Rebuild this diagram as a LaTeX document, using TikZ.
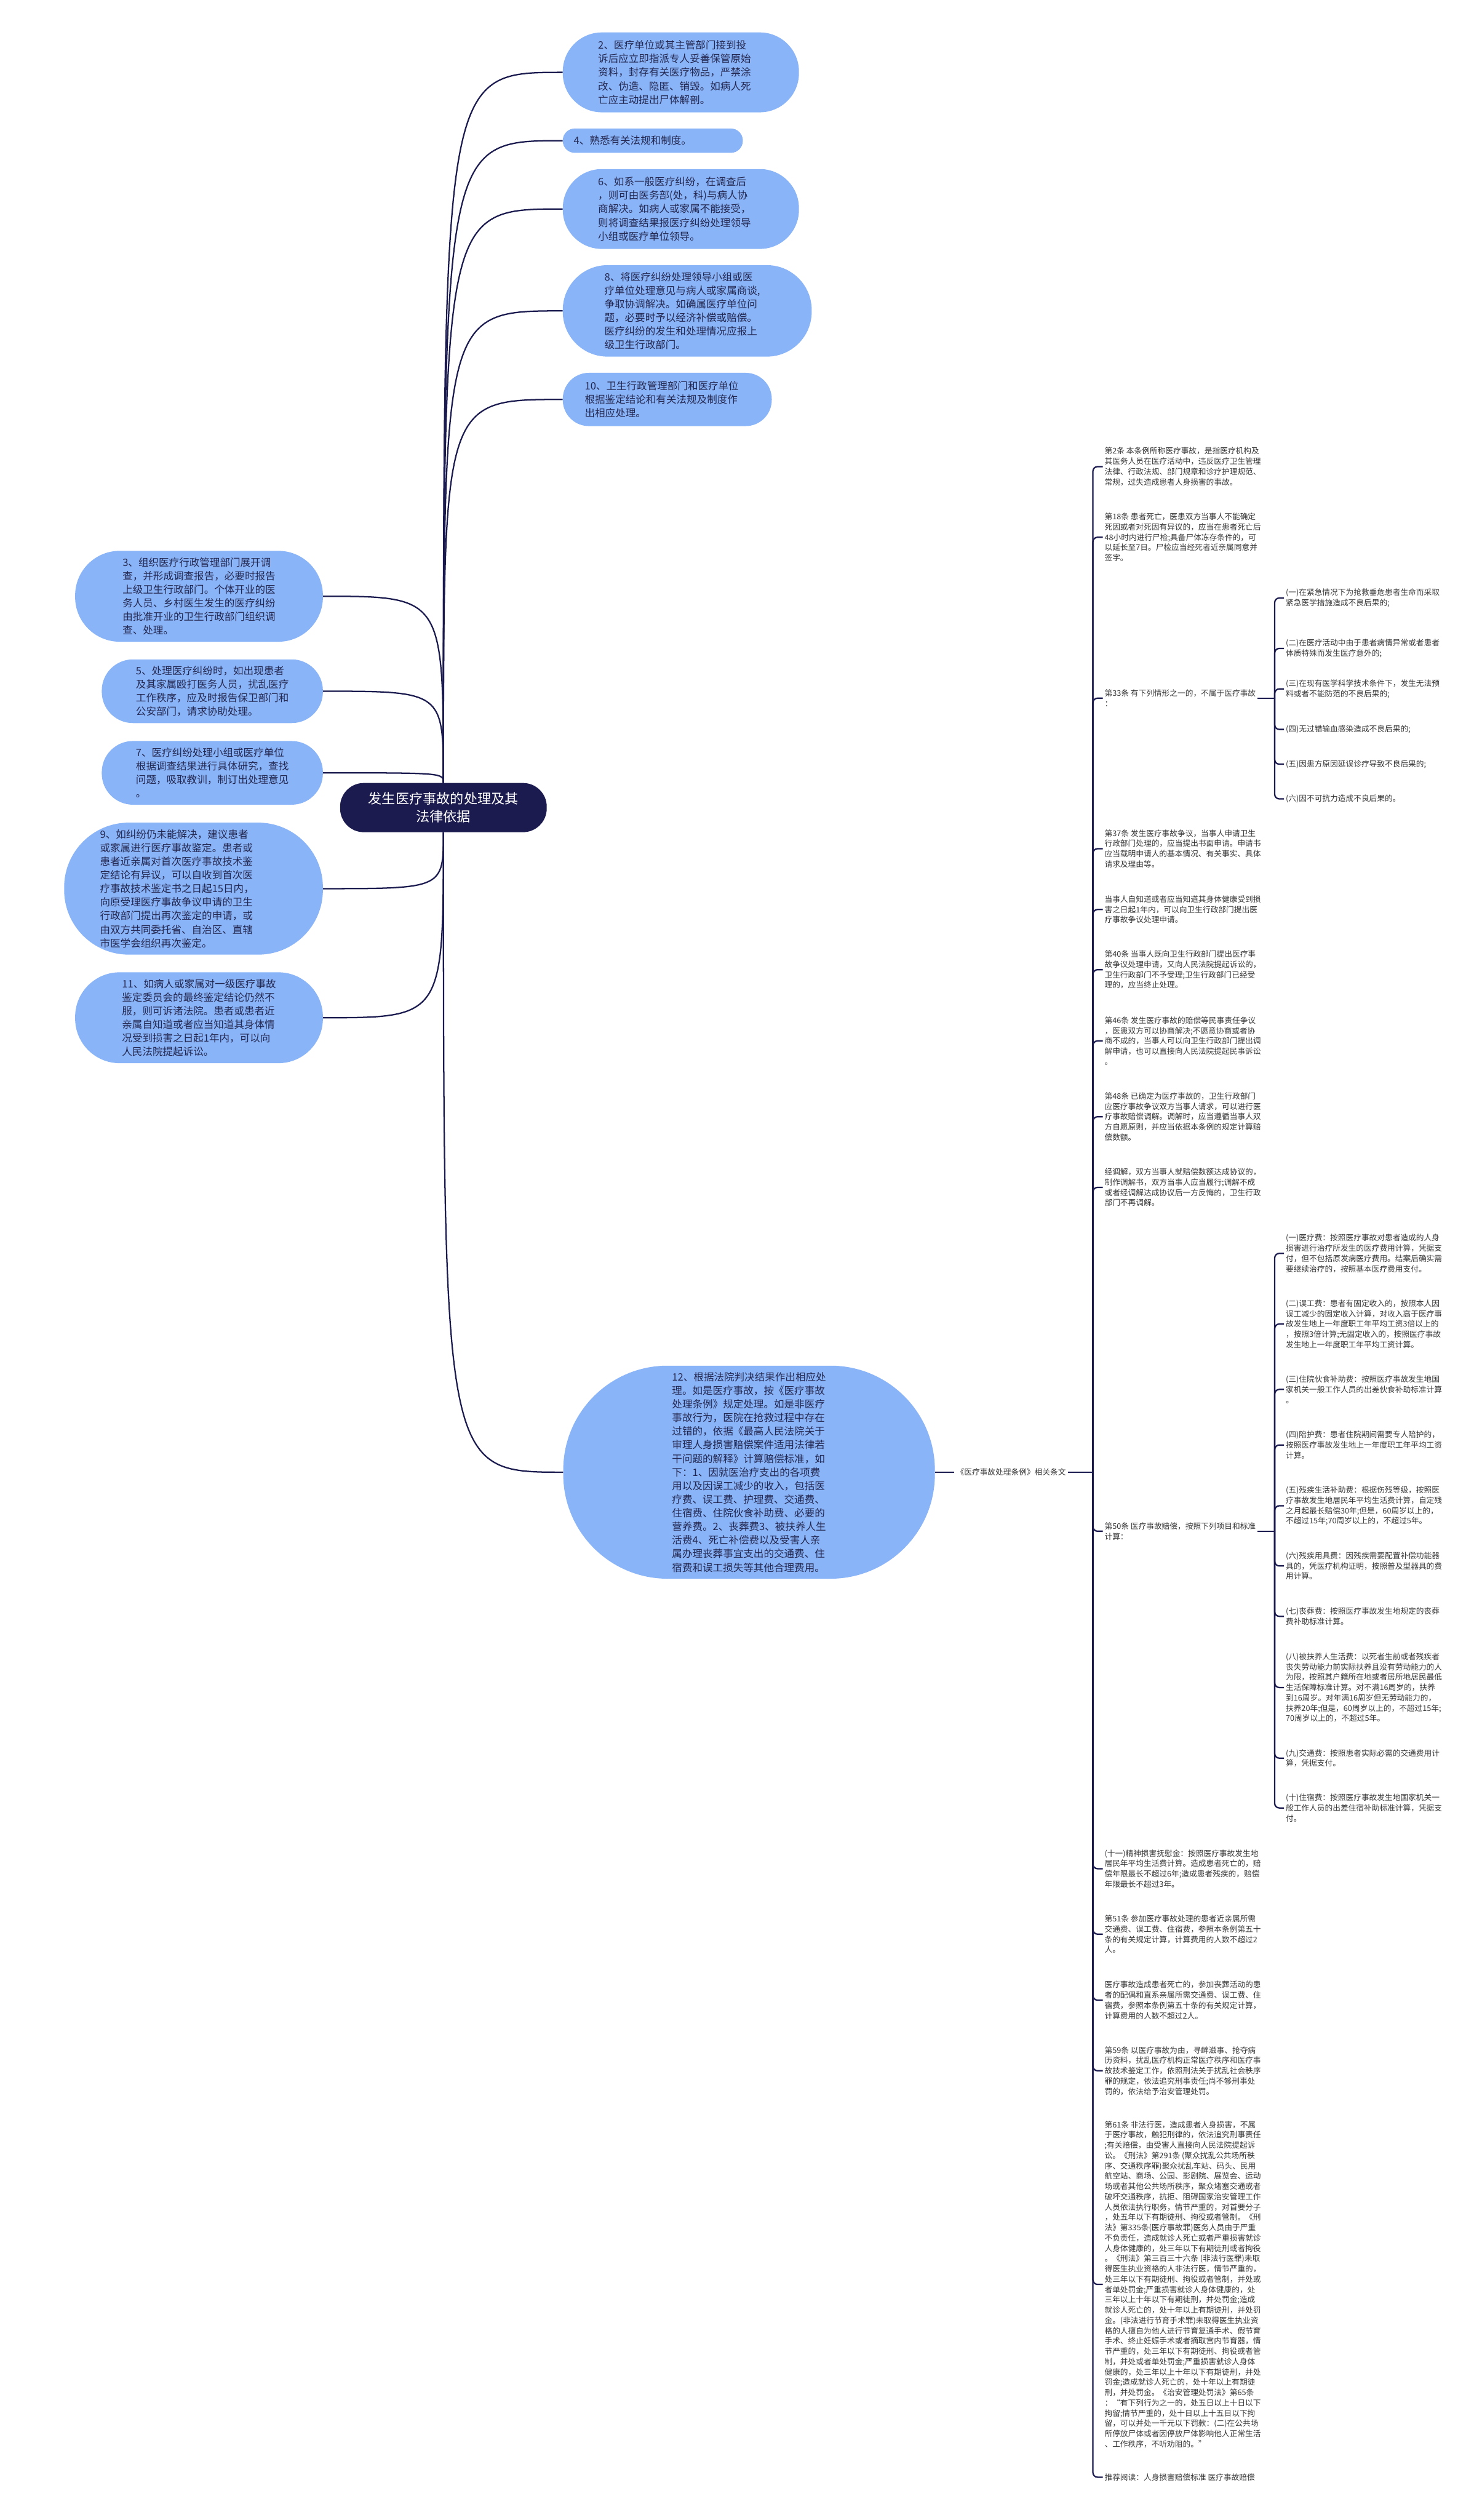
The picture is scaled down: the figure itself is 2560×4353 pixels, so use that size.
\documentclass[tikz,border=0pt]{standalone}
\usepackage{fontspec}
\usepackage{tikz}
\usetikzlibrary{positioning}
\newfontfamily\cjk{Noto Sans CJK SC}
\newcommand{\rootfont}{\cjk\fontsize{23.6}{31}\selectfont}
\newcommand{\bubblefont}{\cjk\fontsize{17.6}{23.5}\selectfont}
\newcommand{\notefont}{\cjk\fontsize{13.5}{17.8}\selectfont}
\definecolor{mapnavy}{HTML}{1B1B50}
\definecolor{bubblefill}{HTML}{8AB4F8}
\definecolor{bubbletext}{HTML}{23274F}
\definecolor{notetext}{HTML}{363636}
\tikzset{
  rootbox/.style={rectangle, rounded corners=41pt, fill=mapnavy, text=white,
    font=\rootfont, align=center, inner sep=0pt, minimum width=357pt, minimum height=85pt},
  bubble/.style 2 args={rectangle, rounded corners=0.49*#2, fill=bubblefill,
    text=bubbletext, font=\bubblefont, align=left, inner sep=0pt,
    minimum width=#1, minimum height=#2},
  note/.style={anchor=west, font=\notefont, text=notetext, align=left, inner sep=3pt},
  link/.style={mapnavy, line width=2.4pt},
  hook/.style={link, rounded corners=8pt},
}
\begin{document}
\begin{tikzpicture}[x=1pt, y=-1pt]
  \fill[white] (0,0) rectangle (2560,4353);
  \useasboundingbox (0,0) rectangle (2560,4353);
  % 中心主题
  \node[rootbox] (root) at (766,1395) {发生医疗事故的处理及其\\法律依据};
  % 上方分支
  \node[bubble={408}{138}, text width=286, anchor=west] (n2) at (972,125)
    {2、医疗单位或其主管部门接到投\\诉后应立即指派专人妥善保管原始\\资料，封存有关医疗物品，严禁涂\\改、伪造、隐匿、销毁。如病人死\\亡应主动提出尸体解剖。};
  \node[bubble={311}{42}, text width=273, anchor=west] (n4) at (972,243) {4、熟悉有关法规和制度。};
  \node[bubble={408}{138}, text width=286, anchor=west] (n6) at (972,361)
    {6、如系一般医疗纠纷，在调查后\\，则可由医务部(处，科)与病人协\\商解决。如病人或家属不能接受，\\则将调查结果报医疗纠纷处理领导\\小组或医疗单位领导。};
  \node[bubble={430}{158}, text width=286, anchor=west] (n8) at (972,537)
    {8、将医疗纠纷处理领导小组或医\\疗单位处理意见与病人或家属商谈,\\争取协调解决。如确属医疗单位问\\题，必要时予以经济补偿或赔偿。\\医疗纠纷的发生和处理情况应报上\\级卫生行政部门。};
  \node[bubble={361}{92}, text width=285, anchor=west] (n10) at (972,690)
    {10、卫生行政管理部门和医疗单位\\根据鉴定结论和有关法规及制度作\\出相应处理。};
  % 左侧分支
  \node[bubble={428}{157}, anchor=east] (n3) at (558,1030)
    {3、组织医疗行政管理部门展开调\\查，并形成调查报告，必要时报告\\上级卫生行政部门。个体开业的医\\务人员、乡村医生发生的医疗纠纷\\由批准开业的卫生行政部门组织调\\查、处理。};
  \node[bubble={382}{110}, anchor=east] (n5) at (558,1194)
    {5、处理医疗纠纷时，如出现患者\\及其家属殴打医务人员，扰乱医疗\\工作秩序，应及时报告保卫部门和\\公安部门，请求协助处理。};
  \node[bubble={382}{110}, anchor=east] (n7) at (558,1335)
    {7、医疗纠纷处理小组或医疗单位\\根据调查结果进行具体研究，查找\\问题，吸取教训，制订出处理意见\\。};
  \node[bubble={447}{228}, text width=323, anchor=east] (n9) at (558,1535)
    {9、如纠纷仍未能解决，建议患者\\或家属进行医疗事故鉴定。患者或\\患者近亲属对首次医疗事故技术鉴\\定结论有异议，可以自收到首次医\\疗事故技术鉴定书之日起15日内，\\向原受理医疗事故争议申请的卫生\\行政部门提出再次鉴定的申请，或\\由双方共同委托省、自治区、直辖\\市医学会组织再次鉴定。};
  \node[bubble={428}{157}, anchor=east] (n11) at (558,1758)
    {11、如病人或家属对一级医疗事故\\鉴定委员会的最终鉴定结论仍然不\\服，则可诉诸法院。患者或患者近\\亲属自知道或者应当知道其身体情\\况受到损害之日起1年内，可以向\\人民法院提起诉讼。};
  % 下方分支
  \node[bubble={642}{368}] (n12) at (1294,2543)
    {12、根据法院判决结果作出相应处\\理。如是医疗事故，按《医疗事故\\处理条例》规定处理。如是非医疗\\事故行为，医院在抢救过程中存在\\过错的，依据《最高人民法院关于\\审理人身损害赔偿案件适用法律若\\干问题的解释》计算赔偿标准，如\\下：1、因就医治疗支出的各项费\\用以及因误工减少的收入，包括医\\疗费、误工费、护理费、交通费、\\住宿费、住院伙食补助费、必要的\\营养费。2、丧葬费3、被扶养人生\\活费4、死亡补偿费以及受害人亲\\属办理丧葬事宜支出的交通费、住\\宿费和误工损失等其他合理费用。};
  \node[note, inner sep=4pt] (law) at (1648,2543) {《医疗事故处理条例》相关条文};
  % 相关条文
  \node[note] (a2) at (1905,806)
    {第2条 本条例所称医疗事故，是指医疗机构及\\其医务人员在医疗活动中，违反医疗卫生管理\\法律、行政法规、部门规章和诊疗护理规范、\\常规，过失造成患者人身损害的事故。};
  \node[note] (a18) at (1905,928)
    {第18条 患者死亡，医患双方当事人不能确定\\死因或者对死因有异议的，应当在患者死亡后\\48小时内进行尸检;具备尸体冻存条件的，可\\以延长至7日。尸检应当经死者近亲属同意并\\签字。};
  \node[note] (a33) at (1905,1206) {第33条 有下列情形之一的，不属于医疗事故\\：};
  \node[note] (a37) at (1905,1466)
    {第37条 发生医疗事故争议，当事人申请卫生\\行政部门处理的，应当提出书面申请。申请书\\应当载明申请人的基本情况、有关事实、具体\\请求及理由等。};
  \node[note] (a37b) at (1905,1571)
    {当事人自知道或者应当知道其身体健康受到损\\害之日起1年内，可以向卫生行政部门提出医\\疗事故争议处理申请。};
  \node[note] (a40) at (1905,1675)
    {第40条 当事人既向卫生行政部门提出医疗事\\故争议处理申请，又向人民法院提起诉讼的，\\卫生行政部门不予受理;卫生行政部门已经受\\理的，应当终止处理。};
  \node[note] (a46) at (1905,1798)
    {第46条 发生医疗事故的赔偿等民事责任争议\\，医患双方可以协商解决;不愿意协商或者协\\商不成的，当事人可以向卫生行政部门提出调\\解申请，也可以直接向人民法院提起民事诉讼\\。};
  \node[note] (a48) at (1905,1929)
    {第48条 已确定为医疗事故的，卫生行政部门\\应医疗事故争议双方当事人请求，可以进行医\\疗事故赔偿调解。调解时，应当遵循当事人双\\方自愿原则，并应当依据本条例的规定计算赔\\偿数额。};
  \node[note] (a48b) at (1905,2051)
    {经调解，双方当事人就赔偿数额达成协议的，\\制作调解书，双方当事人应当履行;调解不成\\或者经调解达成协议后一方反悔的，卫生行政\\部门不再调解。};
  \node[note] (a50) at (1905,2645) {第50条 医疗事故赔偿，按照下列项目和标准\\计算：};
  \node[note] (a50k) at (1905,3228)
    {(十一)精神损害抚慰金：按照医疗事故发生地\\居民年平均生活费计算。造成患者死亡的，赔\\偿年限最长不超过6年;造成患者残疾的，赔偿\\年限最长不超过3年。};
  \node[note] (a51) at (1905,3341)
    {第51条 参加医疗事故处理的患者近亲属所需\\交通费、误工费、住宿费，参照本条例第五十\\条的有关规定计算，计算费用的人数不超过2\\人。};
  \node[note] (a51b) at (1905,3455)
    {医疗事故造成患者死亡的，参加丧葬活动的患\\者的配偶和直系亲属所需交通费、误工费、住\\宿费，参照本条例第五十条的有关规定计算，\\计算费用的人数不超过2人。};
  \node[note] (a59) at (1905,3577)
    {第59条 以医疗事故为由，寻衅滋事、抢夺病\\历资料，扰乱医疗机构正常医疗秩序和医疗事\\故技术鉴定工作，依照刑法关于扰乱社会秩序\\罪的规定，依法追究刑事责任;尚不够刑事处\\罚的，依法给予治安管理处罚。};
  \node[note] (a61) at (1905,3946)
    {第61条 非法行医，造成患者人身损害，不属\\于医疗事故，触犯刑律的，依法追究刑事责任\\;有关赔偿，由受害人直接向人民法院提起诉\\讼。《刑法》第291条 (聚众扰乱公共场所秩\\序、交通秩序罪)聚众扰乱车站、码头、民用\\航空站、商场、公园、影剧院、展览会、运动\\场或者其他公共场所秩序，聚众堵塞交通或者\\破坏交通秩序，抗拒、阻碍国家治安管理工作\\人员依法执行职务，情节严重的，对首要分子\\，处五年以下有期徒刑、拘役或者管制。《刑\\法》第335条(医疗事故罪)医务人员由于严重\\不负责任，造成就诊人死亡或者严重损害就诊\\人身体健康的，处三年以下有期徒刑或者拘役\\。《刑法》第三百三十六条 (非法行医罪)未取\\得医生执业资格的人非法行医，情节严重的，\\处三年以下有期徒刑、拘役或者管制，并处或\\者单处罚金;严重损害就诊人身体健康的，处\\三年以上十年以下有期徒刑，并处罚金;造成\\就诊人死亡的，处十年以上有期徒刑，并处罚\\金。(非法进行节育手术罪)未取得医生执业资\\格的人擅自为他人进行节育复通手术、假节育\\手术、终止妊娠手术或者摘取宫内节育器，情\\节严重的，处三年以下有期徒刑、拘役或者管\\制，并处或者单处罚金;严重损害就诊人身体\\健康的，处三年以上十年以下有期徒刑，并处\\罚金;造成就诊人死亡的，处十年以上有期徒\\刑，并处罚金。《治安管理处罚法》第65条\\：“有下列行为之一的，处五日以上十日以下\\拘留;情节严重的，处十日以上十五日以下拘\\留，可以并处一千元以下罚款：(二)在公共场\\所停放尸体或者因停放尸体影响他人正常生活\\、工作秩序，不听劝阻的。”};
  \node[note] (tui) at (1905,4279) {推荐阅读：人身损害赔偿标准 医疗事故赔偿};
  % 第33条各项
  \node[note] (c1) at (2218,1033) {(一)在紧急情况下为抢救垂危患者生命而采取\\紧急医学措施造成不良后果的;};
  \node[note] (c2) at (2218,1120) {(二)在医疗活动中由于患者病情异常或者患者\\体质特殊而发生医疗意外的;};
  \node[note] (c3) at (2218,1190) {(三)在现有医学科学技术条件下，发生无法预\\料或者不能防范的不良后果的;};
  \node[note] (c4) at (2218,1260) {(四)无过错输血感染造成不良后果的;};
  \node[note] (c5) at (2218,1320) {(五)因患方原因延误诊疗导致不良后果的;};
  \node[note] (c6) at (2218,1380) {(六)因不可抗力造成不良后果的。};
  % 第50条各项
  \node[note] (d1) at (2218,2165)
    {(一)医疗费：按照医疗事故对患者造成的人身\\损害进行治疗所发生的医疗费用计算，凭据支\\付，但不包括原发病医疗费用。结案后确实需\\要继续治疗的，按照基本医疗费用支付。};
  \node[note] (d2) at (2218,2287)
    {(二)误工费：患者有固定收入的，按照本人因\\误工减少的固定收入计算，对收入高于医疗事\\故发生地上一年度职工年平均工资3倍以上的\\，按照3倍计算;无固定收入的，按照医疗事故\\发生地上一年度职工年平均工资计算。};
  \node[note] (d3) at (2218,2400)
    {(三)住院伙食补助费：按照医疗事故发生地国\\家机关一般工作人员的出差伙食补助标准计算\\。};
  \node[note] (d4) at (2218,2496)
    {(四)陪护费：患者住院期间需要专人陪护的，\\按照医疗事故发生地上一年度职工年平均工资\\计算。};
  \node[note] (d5) at (2218,2601)
    {(五)残疾生活补助费：根据伤残等级，按照医\\疗事故发生地居民年平均生活费计算，自定残\\之月起最长赔偿30年;但是，60周岁以上的，\\不超过15年;70周岁以上的，不超过5年。};
  \node[note] (d6) at (2218,2705)
    {(六)残疾用具费：因残疾需要配置补偿功能器\\具的，凭医疗机构证明，按照普及型器具的费\\用计算。};
  \node[note] (d7) at (2218,2792)
    {(七)丧葬费：按照医疗事故发生地规定的丧葬\\费补助标准计算。};
  \node[note] (d8) at (2218,2915)
    {(八)被扶养人生活费：以死者生前或者残疾者\\丧失劳动能力前实际扶养且没有劳动能力的人\\为限，按照其户籍所在地或者居所地居民最低\\生活保障标准计算。对不满16周岁的，扶养\\到16周岁。对年满16周岁但无劳动能力的，\\扶养20年;但是，60周岁以上的，不超过15年;\\70周岁以上的，不超过5年。};
  \node[note] (d9) at (2218,3037)
    {(九)交通费：按照患者实际必需的交通费用计\\算，凭据支付。};
  \node[note] (d10) at (2218,3123)
    {(十)住宿费：按照医疗事故发生地国家机关一\\般工作人员的出差住宿补助标准计算，凭据支\\付。};
  % 主干连线
  \foreach \n in {n2,n4,n6,n8,n10}
    \draw[link] (root.north) .. controls (root.north |- \n.west) .. (\n.west);
  \foreach \n in {n3,n5,n7}
    \draw[link] (root.north) .. controls (root.north |- \n.east) .. (\n.east);
  \foreach \n in {n9,n11}
    \draw[link] (root.south) .. controls (root.south |- \n.east) .. (\n.east);
  \draw[link] (root.south) .. controls (root.south |- n12.west) .. (n12.west);
  \draw[link] (n12.east) -- (law.west);
  % 条文括线
  \coordinate (fork) at (1888,2543);
  \draw[link] (law.east) -- (fork);
  \foreach \a in {a2,a18,a33,a37,a37b,a40,a46,a48,a48b,a50,a50k,a51,a51b,a59,a61,tui}
    \draw[hook] (fork) |- (\a.west);
  \coordinate (fork33) at (2202,1206);
  \draw[link] (a33.east) -- (fork33);
  \foreach \c in {c1,c2,c3,c4,c5,c6}
    \draw[hook] (fork33) |- (\c.west);
  \coordinate (fork50) at (2202,2645);
  \draw[link] (a50.east) -- (fork50);
  \foreach \d in {d1,d2,d3,d4,d5,d6,d7,d8,d9,d10}
    \draw[hook] (fork50) |- (\d.west);
\end{tikzpicture}
\end{document}
